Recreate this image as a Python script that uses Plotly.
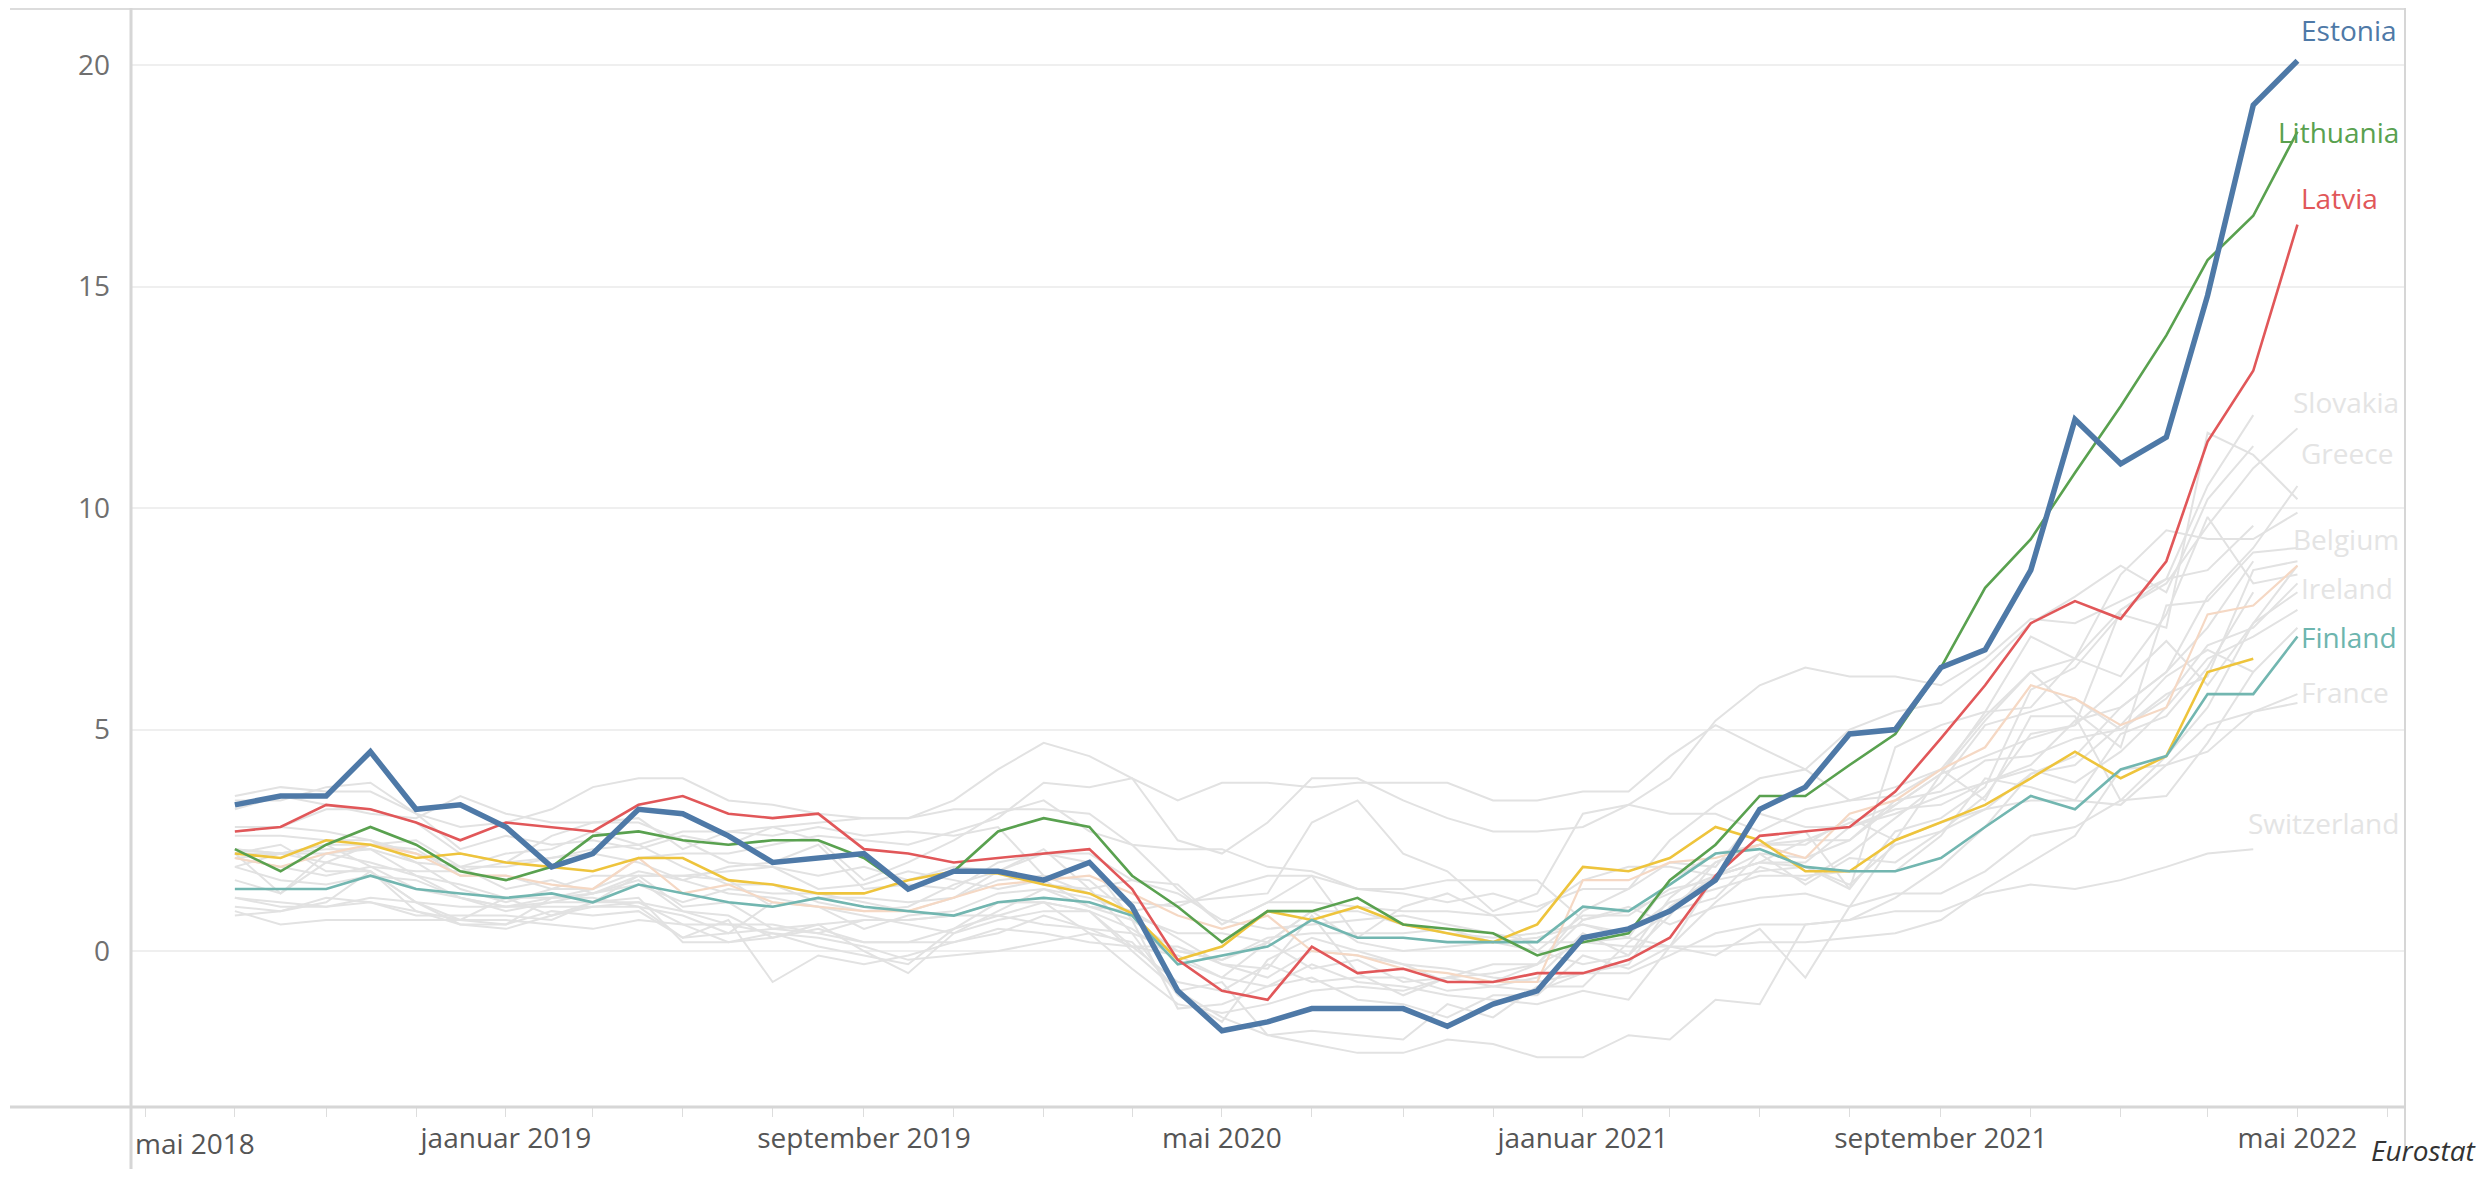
import plotly.graph_objects as go
import pandas as pd

# ---------------- data (annual HICP inflation, %) ----------------
months = pd.date_range("2018-07-01", "2022-05-01", freq="MS")

estonia = [3.3, 3.5, 3.5, 4.5, 3.2, 3.3, 2.8, 1.9, 2.2, 3.2, 3.1, 2.6, 2.0, 2.1, 2.2, 1.4, 1.8, 1.8, 1.6, 2.0,
           1.0, -0.9, -1.8, -1.6, -1.3, -1.3, -1.3, -1.7, -1.2, -0.9, 0.3, 0.5, 0.9, 1.6, 3.2, 3.7, 4.9, 5.0,
           6.4, 6.8, 8.6, 12.0, 11.0, 11.6, 14.8, 19.1, 20.1]
lithuania = [2.3, 1.8, 2.4, 2.8, 2.4, 1.8, 1.6, 1.9, 2.6, 2.7, 2.5, 2.4, 2.5, 2.5, 2.1, 1.4, 1.8, 2.7, 3.0, 2.8,
             1.7, 1.0, 0.2, 0.9, 0.9, 1.2, 0.6, 0.5, 0.4, -0.1, 0.2, 0.4, 1.6, 2.4, 3.5, 3.5, 4.2, 4.9,
             6.4, 8.2, 9.3, 10.8, 12.3, 13.9, 15.6, 16.6, 18.5]
latvia = [2.7, 2.8, 3.3, 3.2, 2.9, 2.5, 2.9, 2.8, 2.7, 3.3, 3.5, 3.1, 3.0, 3.1, 2.3, 2.2, 2.0, 2.1, 2.2, 2.3,
          1.4, -0.2, -0.9, -1.1, 0.1, -0.5, -0.4, -0.7, -0.7, -0.5, -0.5, -0.2, 0.3, 1.7, 2.6, 2.7, 2.8, 3.6,
          4.8, 6.0, 7.4, 7.9, 7.5, 8.8, 11.5, 13.1, 16.4]
finland = [1.4, 1.4, 1.4, 1.7, 1.4, 1.3, 1.2, 1.3, 1.1, 1.5, 1.3, 1.1, 1.0, 1.2, 1.0, 0.9, 0.8, 1.1, 1.2, 1.1,
           0.8, -0.3, -0.1, 0.1, 0.7, 0.3, 0.3, 0.2, 0.2, 0.2, 1.0, 0.9, 1.5, 2.2, 2.3, 1.9, 1.8, 1.8,
           2.1, 2.8, 3.5, 3.2, 4.1, 4.4, 5.8, 5.8, 7.1]
sweden = [2.2, 2.1, 2.5, 2.4, 2.1, 2.2, 2.0, 1.9, 1.8, 2.1, 2.1, 1.6, 1.5, 1.3, 1.3, 1.6, 1.8, 1.75, 1.5, 1.3,
          0.85, -0.2, 0.1, 0.9, 0.7, 1.0, 0.6, 0.4, 0.2, 0.6, 1.9, 1.8, 2.1, 2.8, 2.5, 1.8, 1.8, 2.5,
          2.9, 3.3, 3.9, 4.5, 3.9, 4.4, 6.3, 6.6]
germany = [2.1, 1.9, 2.2, 2.4, 2.2, 1.7, 1.7, 1.5, 1.4, 2.1, 1.3, 1.5, 1.1, 1.0, 0.9, 0.9, 1.2, 1.5, 1.6, 1.7,
           1.3, 0.8, 0.5, 0.8, 0.0, -0.1, -0.4, -0.5, -0.7, -0.7, 1.6, 1.6, 2.0, 2.1, 2.4, 2.1, 3.1, 3.4,
           4.1, 4.6, 6.0, 5.7, 5.1, 5.5, 7.6, 7.8, 8.7]

belgium = [2.7, 2.8, 3.2, 3.2, 2.9, 2.2, 2.0, 2.1, 2.2, 2.0, 1.6, 1.3, 1.2, 1.0, 0.8, 0.6, 0.4, 0.9, 1.4, 1.0,
           0.7, 0.0, -0.2, 0.2, 0.9, 0.9, 0.6, 0.4, 0.3, 0.4, 0.6, 0.3, 1.6, 2.2, 2.4, 2.7, 1.4, 4.6,
           5.1, 5.4, 7.1, 6.6, 8.5, 9.5, 9.3, 9.3, 9.9]
greece = [0.8, 0.9, 1.1, 1.8, 1.1, 0.6, 0.5, 0.8, 1.0, 1.1, 0.6, 0.2, 0.4, 0.1, -0.1, -0.3, 0.5, 1.1, 1.1, 0.4,
          0.2, -0.9, -0.7, -1.9, -2.1, -2.3, -2.3, -2.0, -2.1, -2.4, -2.4, -1.9, -2.0, -1.1, -1.2, 0.6, 0.7,
          1.2, 1.9, 2.8, 4.0, 4.4, 5.5, 6.3, 8.0, 9.1, 10.5]
slovakia = [2.8, 2.8, 2.7, 2.5, 2.0, 1.9, 2.2, 2.3, 2.7, 2.4, 2.7, 2.7, 2.8, 2.9, 3.0, 3.0, 3.2, 3.2, 3.2, 3.1,
            2.4, 2.3, 2.3, 1.9, 1.8, 1.4, 1.4, 1.6, 1.6, 1.6, 0.7, 0.9, 1.3, 1.7, 2.0, 2.5, 2.5, 3.3,
            4.0, 4.4, 4.8, 5.1, 7.7, 8.3, 9.6, 10.9, 11.8]
netherlands = [2.1, 1.9, 1.7, 1.9, 1.8, 1.8, 2.0, 2.6, 2.9, 3.0, 2.3, 2.7, 2.6, 2.8, 2.6, 2.7, 2.6, 2.8, 1.7, 1.3,
               1.1, 1.0, 1.4, 1.7, 1.7, 0.3, 1.0, 1.3, 0.8, 0.9, 1.6, 1.9, 1.9, 1.7, 2.0, 1.9, 1.4, 2.7,
               3.0, 3.7, 5.9, 6.4, 7.6, 7.3, 11.7, 11.2, 10.2]
spain = [2.3, 2.2, 2.3, 2.3, 1.7, 1.2, 1.0, 1.1, 1.3, 1.6, 0.9, 0.6, 0.6, 0.4, 0.2, 0.2, 0.5, 0.8, 1.1, 0.9,
         0.1, -0.7, -0.9, -0.3, -0.7, -0.6, -0.6, -0.9, -0.8, -0.6, 0.4, -0.1, 1.2, 2.0, 2.4, 2.5, 2.9, 3.3,
         4.0, 5.4, 5.5, 6.6, 6.2, 7.6, 9.8, 8.3, 8.5]
france = [2.6, 2.6, 2.5, 2.5, 2.2, 1.9, 1.4, 1.6, 1.3, 1.5, 1.1, 1.4, 1.3, 1.3, 1.1, 0.9, 1.2, 1.6, 1.7, 1.6,
          0.8, 0.4, 0.4, 0.2, 0.9, 0.2, 0.0, 0.1, 0.2, 0.0, 0.8, 0.8, 1.4, 1.6, 1.8, 1.9, 1.5, 2.4,
          2.7, 3.2, 3.4, 3.4, 3.3, 4.2, 5.1, 5.4, 5.8]
italy = [1.9, 1.6, 1.5, 1.7, 1.6, 1.2, 0.9, 1.1, 1.1, 1.1, 0.9, 0.8, 0.3, 0.5, 0.2, 0.2, 0.2, 0.5, 0.4, 0.2,
         0.1, 0.1, -0.3, -0.4, 0.8, -0.5, -1.0, -0.6, -0.3, -0.3, 0.7, 1.0, 0.6, 1.0, 1.2, 1.3, 1.0, 2.5,
         2.9, 3.2, 4.0, 4.2, 5.1, 6.2, 6.8, 6.3, 7.3]
austria = [2.3, 2.2, 2.0, 2.4, 2.3, 1.7, 1.7, 1.4, 1.7, 1.7, 1.7, 1.6, 1.0, 1.2, 1.2, 1.1, 1.2, 1.8, 2.2, 2.2,
           1.6, 1.5, 0.6, 1.1, 1.7, 1.4, 1.3, 1.1, 1.3, 1.0, 1.4, 1.4, 2.0, 1.9, 3.1, 2.8, 2.8, 3.2,
           3.3, 3.8, 4.1, 3.8, 4.5, 5.5, 6.6, 7.1, 7.7]
portugal = [2.2, 1.3, 2.0, 1.8, 0.9, 0.6, 0.6, 0.9, 0.8, 0.9, 0.3, 0.7, -0.7, -0.1, -0.3, -0.1, 0.2, 0.4, 0.8,
            0.5, 0.1, -0.1, -0.6, 0.2, -0.4, -0.2, -0.7, -0.6, -0.5, -0.3, 0.2, 0.3, 0.1, -0.1, 0.5, -0.6,
            1.0, 1.3, 1.3, 1.8, 2.6, 2.8, 3.4, 4.4, 5.5, 7.4, 8.1]
luxembourg = [2.2, 2.2, 2.4, 2.4, 2.5, 1.9, 1.9, 2.1, 2.3, 2.4, 1.9, 1.5, 1.5, 1.1, 0.9, 1.0, 1.5, 1.8, 2.3,
              1.4, 0.4, -1.0, -1.6, -0.2, 0.3, 0.0, -0.3, -0.7, -0.7, -0.3, 0.9, 1.4, 2.5, 3.3, 3.9, 4.1,
              3.4, 3.5, 4.1, 5.3, 6.3, 5.4, 4.6, 7.8, 7.9, 9.0, 9.1]
cyprus = [1.6, 1.3, 2.2, 2.0, 1.7, 1.5, 1.2, 0.8, 1.1, 1.2, 0.2, 0.2, 0.3, 0.6, 0.0, -0.5, 0.4, 0.7, 0.9, 0.9,
          0.0, -0.9, -1.5, -1.9, -1.8, -1.9, -2.0, -1.2, -1.5, -0.8, -0.8, 0.2, 0.9, 1.2, 2.2, 2.1, 2.5,
          3.4, 3.6, 4.3, 4.4, 4.8, 5.0, 5.8, 6.2, 8.6, 8.8]
malta = [1.9, 2.2, 2.4, 1.9, 1.4, 1.2, 1.0, 1.2, 1.3, 1.7, 1.7, 1.8, 1.9, 1.7, 1.9, 1.6, 1.9, 1.8, 1.5, 1.4,
         1.6, 1.3, 0.7, 0.5, 0.6, 0.7, 0.8, 0.6, 0.4, 0.2, 0.2, 0.1, 0.1, 0.1, 0.2, 0.2, 0.3, 0.4, 0.7,
         1.4, 2.0, 2.6, 4.1, 4.2, 4.5, 5.4, 5.6]
slovenia = [2.1, 2.2, 2.2, 2.3, 2.0, 1.4, 1.1, 1.4, 1.4, 1.8, 1.6, 1.9, 2.0, 2.4, 1.4, 1.5, 1.4, 2.0, 2.2, 2.0,
            0.7, -1.3, -1.2, -0.8, -0.3, -0.7, -0.8, -1.0, -1.1, -1.2, -0.9, -1.1, 0.1, 1.7, 2.2, 1.5, 2.1,
            2.0, 2.7, 3.5, 4.9, 5.1, 6.0, 7.0, 6.0, 7.4, 8.7]
ireland = [1.0, 0.9, 1.2, 1.1, 0.8, 0.8, 0.8, 0.7, 1.1, 1.7, 1.0, 1.1, 0.5, 0.6, 0.7, 0.7, 0.8, 1.1, 1.1, 0.9,
           0.5, -0.2, -0.6, -0.8, -0.6, -1.1, -1.2, -1.5, -1.0, -1.0, -0.1, -0.4, 0.1, 1.1, 1.9, 1.6, 2.2,
           3.0, 3.8, 5.1, 5.4, 5.7, 5.0, 5.7, 6.9, 7.3, 8.3]
hungary = [3.4, 3.4, 3.7, 3.8, 3.1, 2.8, 2.9, 3.2, 3.7, 3.9, 3.9, 3.4, 3.3, 3.1, 3.0, 3.0, 3.4, 4.1, 4.7, 4.4,
           3.9, 2.5, 2.2, 2.9, 3.9, 3.9, 3.4, 3.0, 2.7, 2.7, 2.8, 3.3, 3.9, 5.2, 6.0, 6.4, 6.2, 6.2, 6.0,
           6.6, 7.5, 7.4, 7.9, 8.4, 8.6, 9.6]
poland = [1.2, 1.0, 1.0, 1.2, 1.1, 0.7, 0.6, 1.2, 1.4, 2.1, 2.2, 2.2, 2.4, 2.6, 2.5, 2.4, 2.7, 3.0, 3.8, 3.7,
          3.9, 3.4, 3.8, 3.8, 3.7, 3.8, 3.8, 3.8, 3.4, 3.4, 3.6, 3.6, 4.4, 5.1, 4.6, 4.1, 5.0, 5.4, 5.6,
          6.4, 7.4, 8.0, 8.7, 8.1, 10.2, 11.4]
bulgaria = [3.5, 3.7, 3.6, 3.6, 3.1, 2.3, 2.6, 2.4, 2.5, 2.3, 2.6, 2.4, 2.8, 2.5, 1.6, 2.0, 2.5, 3.1, 3.4, 2.7,
            2.4, 1.4, 0.6, 1.1, 1.1, 1.0, 0.9, 0.9, 0.8, 0.0, -0.3, -0.1, 0.8, 2.0, 2.4, 2.4, 3.0, 2.5, 4.0,
            5.2, 6.3, 6.6, 7.7, 8.4, 10.5, 12.1]
croatia = [2.2, 2.4, 1.8, 1.8, 1.1, 1.0, 1.0, 1.0, 1.0, 1.0, 0.8, 0.4, 1.1, 1.0, 0.5, 0.8, 0.9, 1.3, 1.4, 1.2,
           0.9, 0.3, -0.3, -0.6, 0.0, -0.1, -0.3, -0.4, -0.6, -0.7, -0.5, -0.3, 1.0, 1.7, 2.0, 2.0, 2.8,
           3.1, 3.5, 3.8, 4.2, 5.2, 5.5, 6.3, 7.3, 8.8]
denmark = [0.9, 0.6, 0.7, 0.7, 0.7, 0.7, 1.2, 1.2, 1.2, 1.0, 0.3, 0.4, 0.5, 0.4, 0.7, 0.7, 0.8, 0.8, 0.6, 0.5,
           0.4, 0.0, -0.2, 0.3, 0.4, 0.4, 0.4, 0.5, 0.2, 0.3, 0.6, 0.4, 1.1, 1.4, 1.7, 1.7, 1.8, 1.8, 2.6,
           3.9, 3.7, 3.4, 4.9, 5.3, 6.4, 8.1]
norway = [3.2, 3.5, 3.3, 3.1, 3.0, 3.5, 3.1, 2.9, 2.9, 2.9, 2.5, 2.0, 1.9, 1.4, 1.5, 1.8, 1.6, 1.4, 1.6, 1.0,
          0.9, 1.1, 1.2, 1.3, 2.9, 3.4, 2.2, 1.8, 0.9, 1.3, 3.1, 3.3, 3.1, 3.1, 2.7, 3.2, 3.4, 3.7, 4.1,
          3.4, 5.3, 5.3, 3.4, 3.5, 4.7, 6.3]
switzerland = [1.2, 1.1, 1.0, 1.1, 0.9, 0.7, 0.7, 0.6, 0.5, 0.7, 0.6, 0.6, 0.4, 0.3, 0.1, -0.2, -0.1, 0.0, 0.2,
               0.4, -0.4, -1.2, -1.4, -1.2, -0.9, -0.8, -0.9, -0.6, -0.8, -0.9, -0.5, -0.5, -0.1, 0.4, 0.6,
               0.6, 0.7, 0.9, 0.9, 1.3, 1.5, 1.4, 1.6, 1.9, 2.2, 2.3]

grey_series = {
    "Belgium": belgium, "Greece": greece, "Slovakia": slovakia, "Netherlands": netherlands,
    "Spain": spain, "France": france, "Italy": italy, "Austria": austria, "Portugal": portugal,
    "Luxembourg": luxembourg, "Cyprus": cyprus, "Malta": malta, "Slovenia": slovenia,
    "Ireland": ireland, "Hungary": hungary, "Poland": poland, "Bulgaria": bulgaria,
    "Croatia": croatia, "Denmark": denmark, "Norway": norway, "Switzerland": switzerland,
}

label_dates = ["2018-05-01", "2019-01-01", "2019-09-01", "2020-05-01", "2021-01-01", "2021-09-01", "2022-05-01"]
label_texts = ["mai 2018", "jaanuar 2019", "september 2019", "mai 2020", "jaanuar 2021", "september 2021", "mai 2022"]
y_ticks = [0, 5, 10, 15, 20]

# ---------------- styles ----------------
FONT = "Open Sans"
GREY = "#e2e2e2"
highlight = [  # name, values, colour, width
    ("Germany", germany, "#f5d8c4", 2.2),
    ("Sweden", sweden, "#eec43c", 2.6),
    ("Finland", finland, "#72b6b0", 2.6),
    ("Latvia", latvia, "#e15759", 2.6),
    ("Lithuania", lithuania, "#59a14f", 2.6),
    ("Estonia", estonia, "#4e79a7", 5.5),
]
# labels at line ends: (name, series, colour, y offset, anchor)
end_labels = [
    ("Estonia", estonia, "#4e79a7", 0.7, "left"),
    ("Lithuania", lithuania, "#59a14f", 0.0, "right"),
    ("Latvia", latvia, "#e15759", 0.6, "left"),
    ("Slovakia", slovakia, "#e4e4e4", 0.6, "right"),
    ("Greece", greece, "#e4e4e4", 0.75, "left"),
    ("Belgium", belgium, "#e4e4e4", -0.6, "right"),
    ("Ireland", ireland, "#e4e4e4", -0.1, "left"),
    ("Finland", finland, "#6db5ae", 0.0, "left"),
    ("France", france, "#e4e4e4", 0.05, "left"),
    ("Switzerland", switzerland, "#e4e4e4", 0.6, "right"),
]

fig = go.Figure()
for name, vals in grey_series.items():
    fig.add_trace(go.Scatter(x=months[:len(vals)], y=vals, mode="lines", name=name,
                             line=dict(color=GREY, width=2), hoverinfo="x+y+name"))
for name, vals, col, w in highlight:
    fig.add_trace(go.Scatter(x=months[:len(vals)], y=vals, mode="lines", name=name,
                             line=dict(color=col, width=w), hoverinfo="x+y+name"))

# the page body has an 8px margin: size the figure so page pixels line up with the original
OFF = 8
W, H = 2489 - 2 * OFF, 1177 - 2 * OFF
PL, PR, PT, PB = 131, 2405, 8, 1107        # plot area edges in page pixels
L, T = PL - OFF, PT - OFF
R = W - (PR - OFF)
B = H - (PB - OFF)
pw, ph = PR - PL, PB - PT


def px_x(p):
    return (p - PL) / pw


def px_y(p):
    return (PB - p) / ph


annotations = []
for name, vals, col, dy, anchor in end_labels:
    if anchor == "left":
        annotations.append(dict(x=months[len(vals) - 1], xref="x", y=vals[-1] + dy, yref="y",
                                text=name, showarrow=False, xanchor="left", xshift=2,
                                font=dict(family=FONT, size=28, color=col)))
    else:
        annotations.append(dict(x=px_x(2401), xref="paper", y=vals[-1] + dy, yref="y",
                                text=name, showarrow=False, xanchor="right",
                                font=dict(family=FONT, size=28, color=col)))

# first x label sits just right of the axis in the original
annotations.append(dict(x=label_dates[0], xref="x", y=px_y(1143), yref="paper", text=label_texts[0],
                        showarrow=False, xanchor="left", yanchor="middle", xshift=-12,
                        font=dict(family=FONT, size=28, color="#555555")))
annotations.append(dict(x=px_x(2479), xref="paper", y=px_y(1150), yref="paper", text="<i>Eurostat</i>",
                        showarrow=False, xanchor="right", yanchor="middle",
                        font=dict(family=FONT, size=28, color="#333333")))

tick_dates = pd.date_range("2018-05-01", "2022-07-01", freq="2MS")
tick_text = []
for d in tick_dates:
    s = d.strftime("%Y-%m-%d")
    if s in label_dates and s != label_dates[0]:
        tick_text.append(label_texts[label_dates.index(s)])
    else:
        tick_text.append("")

border = "#d6d6d6"
shapes = [
    dict(type="line", xref="paper", yref="paper", x0=px_x(10), x1=px_x(2405), y0=px_y(9), y1=px_y(9),
         line=dict(color="#dcdcdc", width=2)),
    dict(type="line", xref="paper", yref="paper", x0=px_x(10), x1=px_x(2405), y0=0, y1=0,
         line=dict(color=border, width=3)),
    dict(type="line", xref="paper", yref="paper", x0=0, x1=0, y0=px_y(8), y1=px_y(1177),
         line=dict(color=border, width=3)),
    dict(type="line", xref="paper", yref="paper", x0=px_x(2405), x1=px_x(2405), y0=px_y(8), y1=px_y(1150),
         line=dict(color=border, width=2)),
    dict(type="line", xref="paper", yref="y", x0=0, x1=1, y0=0, y1=0, layer="between",
         line=dict(color="#a8a8a8", width=1.5, dash="dot")),
]

y_top = (951 - PT) / 44.29
y_bot = -(PB - 951) / 44.29

fig.update_layout(
    width=W, height=H, autosize=False,
    margin=dict(l=L, r=R, t=T, b=B, pad=0),
    paper_bgcolor="white", plot_bgcolor="white",
    showlegend=False,
    font=dict(family=FONT, size=28, color="#555555"),
    annotations=annotations, shapes=shapes,
    xaxis=dict(type="date", range=["2018-04-21 12:00", "2022-07-13"],
               tickvals=list(tick_dates), ticktext=tick_text,
               ticks="outside", ticklen=9, tickwidth=1, tickcolor="#dddddd",
               showgrid=False, showline=False, zeroline=False,
               tickfont=dict(family=FONT, size=28, color="#555555"),
               ticklabelstandoff=-3),
    yaxis=dict(range=[y_bot, y_top], tickvals=y_ticks, ticktext=[str(v) for v in y_ticks],
               showgrid=True, gridcolor="#efefef", gridwidth=1.5,
               showline=False, zeroline=False, ticks="",
               tickfont=dict(family=FONT, size=28, color="#6f6f6f"),
               ticklabelstandoff=20),
)

fig.write_html("out.html")
